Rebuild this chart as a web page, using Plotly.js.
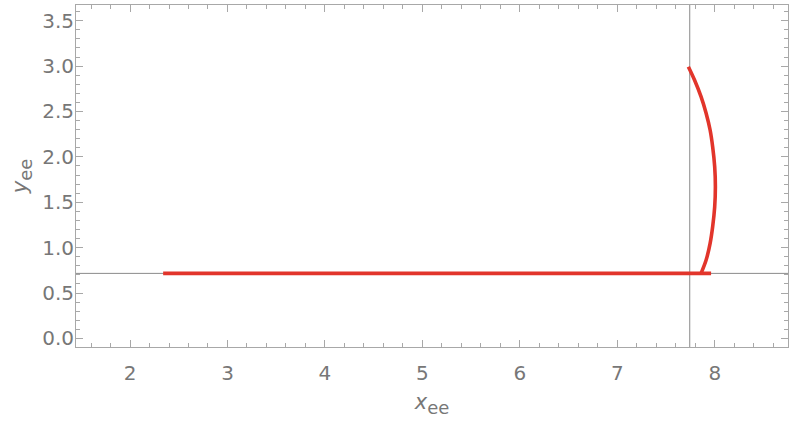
<!DOCTYPE html>
<html>
<head>
<meta charset="utf-8">
<script src="https://cdn.plot.ly/plotly-3.0.1.min.js"></script>
<style>html,body{margin:0;padding:0;background:#fff;}#plot{width:789px;height:429px;}</style>
</head>
<body>
<div id="plot"></div>
<script>
// Data
const lineX = [2.34, 7.961];
const lineY = [0.716, 0.716];
const arcX = [7.728, 7.790, 7.858, 7.910, 7.951, 7.977, 7.998, 8.005, 7.998, 7.977, 7.951, 7.910, 7.858];
const arcY = [2.993, 2.849, 2.663, 2.480, 2.296, 2.112, 1.891, 1.671, 1.450, 1.230, 1.047, 0.863, 0.716];
const originX = 7.742;
const originY = 0.716;
const xRange = [1.446, 8.75];
const yRange = [-0.095, 3.673];

const red = '#e2352b';
const gray = '#777777';
const frameGray = '#a8a8a8';
const fontFam = 'DejaVu Sans, Liberation Sans, Arial, sans-serif';

const traces = [
  {x: lineX, y: lineY, mode: 'lines', line: {color: red, width: 3.6}, hoverinfo: 'skip'},
  {x: arcX, y: arcY, mode: 'lines', line: {color: red, width: 3.6, shape: 'spline', smoothing: 1}, hoverinfo: 'skip'}
];

const axisCommon = {
  showgrid: false, zeroline: false,
  showline: true, linecolor: frameGray, linewidth: 1, mirror: 'ticks',
  ticks: 'inside', ticklen: 7, tickcolor: frameGray, tickwidth: 1,
  tickfont: {family: fontFam, size: 20, color: gray}
};

const layout = {
  width: 789, height: 429,
  margin: {l: 76, r: 1, t: 5, b: 82},
  paper_bgcolor: '#fff', plot_bgcolor: '#fff',
  showlegend: false,
  xaxis: Object.assign({}, axisCommon, {
    range: xRange, tick0: 0, dtick: 1,
    ticklabelstandoff: 8,
    minor: {dtick: 0.2, ticks: 'inside', ticklen: 4, tickcolor: frameGray, tickwidth: 1},
    title: {text: '<i>x</i><sub><span style="font-size:18px">ee</span></sub>', font: {family: fontFam, size: 21, color: gray}, standoff: 10}
  }),
  yaxis: Object.assign({}, axisCommon, {
    range: yRange, tick0: 0, dtick: 0.5, tickformat: '.1f',
    ticklabelstandoff: -3,
    minor: {dtick: 0.1, ticks: 'inside', ticklen: 4, tickcolor: frameGray, tickwidth: 1},
    title: {text: '<i>y</i><sub><span style="font-size:18px">ee</span></sub>', font: {family: fontFam, size: 21, color: gray}, standoff: 8}
  }),
  shapes: [
    {type: 'line', xref: 'x', yref: 'paper', x0: originX, x1: originX, y0: 0, y1: 1, line: {color: '#8a8a8a', width: 1}, layer: 'below'},
    {type: 'line', xref: 'paper', yref: 'y', x0: 0, x1: 1, y0: originY, y1: originY, line: {color: '#8a8a8a', width: 1}, layer: 'below'}
  ]
};

Plotly.newPlot('plot', traces, layout, {displayModeBar: false, staticPlot: true});
</script>
</body>
</html>
